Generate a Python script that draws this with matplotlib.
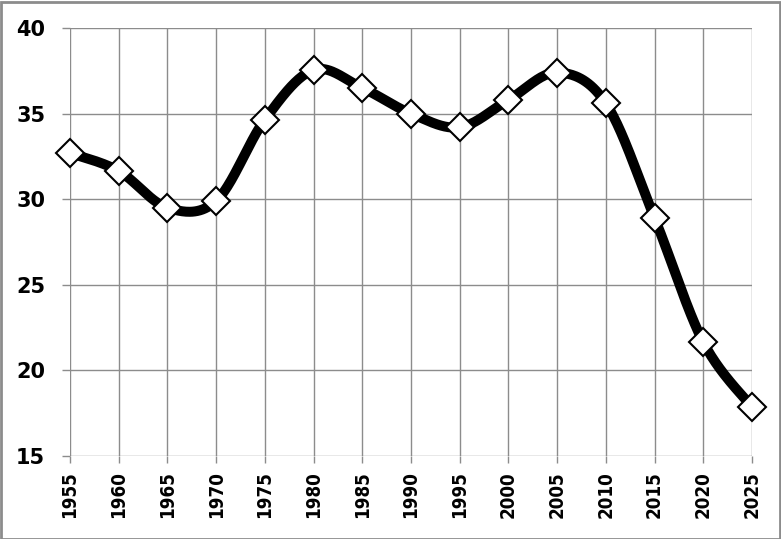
import numpy as np
import matplotlib
matplotlib.use("Agg")
import matplotlib.pyplot as plt

years = [1955, 1960, 1965, 1970, 1975, 1980, 1985, 1990, 1995, 2000, 2005, 2010, 2015, 2020, 2025]
values = [32.7, 31.65, 29.5, 29.9, 34.65, 37.55, 36.5, 35.0, 34.2, 35.8, 37.4, 35.6, 28.9, 21.65, 17.85]
yticks = [15, 20, 25, 30, 35, 40]

def smooth(xs, ys, n=40):
    xs = np.asarray(xs, float); ys = np.asarray(ys, float)
    P = np.column_stack([xs, ys])
    out = []
    for i in range(len(P) - 1):
        p0 = P[i - 1] if i > 0 else P[i]
        p1 = P[i]; p2 = P[i + 1]
        p3 = P[i + 2] if i + 2 < len(P) else P[i + 1]
        c1 = p1 + (p2 - p0) / 6.0
        c2 = p2 - (p3 - p1) / 6.0
        t = np.linspace(0, 1, n)[:, None]
        seg = (1 - t) ** 3 * p1 + 3 * (1 - t) ** 2 * t * c1 + 3 * (1 - t) * t ** 2 * c2 + t ** 3 * p2
        out.append(seg if i == 0 else seg[1:])
    s = np.vstack(out)
    return s[:, 0], s[:, 1]

fig = plt.figure(figsize=(7.81, 5.39), dpi=100)
ax = fig.add_axes([70 / 781, 1 - 456 / 539, (752 - 70) / 781, (456 - 28) / 539])
sx, sy = smooth(years, values)
ax.plot(sx, sy, color='black', lw=7.2, solid_capstyle='round', zorder=3, clip_on=False)
ax.plot(years, values, linestyle='none', marker='D', markersize=14.5, markerfacecolor='white',
        markeredgecolor='black', markeredgewidth=1.5, zorder=4, clip_on=False)

ax.set_xlim(1955, 2025)
ax.set_ylim(15, 40)
ax.set_xticks(years)
ax.set_yticks(yticks)
ax.set_xticklabels([str(y) for y in years], rotation=90, fontsize=13.5, fontweight='bold',
                   family='DejaVu Sans', fontstretch='condensed')
ax.set_yticklabels([str(v) for v in yticks], fontsize=15, fontweight='bold', family='DejaVu Sans')
ax.grid(True, color='#8c8c8c', lw=1.0)
ax.set_axisbelow(True)
for s in ax.spines.values():
    s.set_visible(False)
ax.tick_params(axis='y', length=5.8, width=1.0, color='#8c8c8c', pad=12)
ax.tick_params(axis='x', length=5.0, width=1.0, color='#8c8c8c', pad=6)

fig.patches.append(plt.Rectangle((0.5 / 781, 0.5 / 539), 779 / 781, 537 / 539, transform=fig.transFigure,
                                 fill=False, edgecolor='#8c8c8c', lw=2.0))
fig.savefig('out.png', dpi=100)
